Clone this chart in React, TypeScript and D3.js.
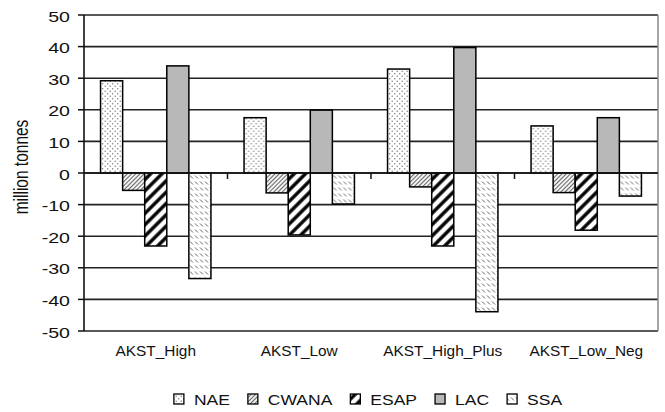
import React from "react";
import * as d3 from "d3";

const categories = ["AKST_High", "AKST_Low", "AKST_High_Plus", "AKST_Low_Neg"];
const seriesNames = ["NAE", "CWANA", "ESAP", "LAC", "SSA"];
const NAE = [29.2, 17.5, 32.9, 14.9];
const CWANA = [-5.5, -6.3, -4.4, -6.2];
const ESAP = [-23.1, -19.6, -23.1, -18.1];
const LAC = [33.9, 19.9, 39.7, 17.5];
const SSA = [-33.4, -9.8, -43.9, -7.3];
const seriesValues = [NAE, CWANA, ESAP, LAC, SSA];
const yTicks = [50, 40, 30, 20, 10, 0, -10, -20, -30, -40, -50];

const W = 665;
const H = 412;
const FONT = "'Liberation Sans', Arial, sans-serif";
const fills = ["url(#pNAE)", "url(#pCWANA)", "url(#pESAP)", "#b8b8b8", "url(#pSSA)"];

function measure(text: string, size: number): number {
  if (typeof document === "undefined") return text.length * size * 0.6;
  const c = document.createElement("canvas");
  const ctx = c.getContext("2d");
  if (!ctx) return text.length * size * 0.6;
  ctx.font = `${size}px 'Liberation Sans', Arial, sans-serif`;
  return ctx.measureText(text).width;
}

export default function App() {
  const left = 84, right = 658, top = 15, bottom = 331;
  const y = d3.scaleLinear().domain([-50, 50]).range([bottom, top]);
  const x0 = d3.scaleBand<string>().domain(categories).range([left, right]).paddingInner(0).paddingOuter(0);
  const x1 = d3.scaleBand<string>().domain(seriesNames).range([0, x0.bandwidth()]).paddingInner(0).paddingOuter(0.75);

  const legendScale = 1.25;
  const legendFont = 14;
  const items = seriesNames.map((n) => ({ n, tw: measure(n, legendFont) * legendScale }));
  const boxW = 10, boxGap = 10, itemGap = 18;
  const totalW = items.reduce((s, it) => s + boxW + boxGap + it.tw, 0) + itemGap * (items.length - 1);
  let cursor = 368 - totalW / 2;
  const legendItems = items.map((it, i) => {
    const bx = cursor;
    cursor += boxW + boxGap + it.tw + itemGap;
    return { ...it, i, bx };
  });

  return (
    <svg width={W} height={H} style={{ position: "absolute", left: 0, top: 0, background: "#fff" }} fontFamily={FONT}>
      <defs>
        <pattern id="pNAE" width="5" height="5" patternUnits="userSpaceOnUse">
          <rect width="5" height="5" fill="#fff" />
          <circle cx="1.2" cy="1.2" r="0.7" fill="#777" />
          <circle cx="3.7" cy="3.7" r="0.7" fill="#777" />
        </pattern>
        <pattern id="pCWANA" width="3" height="3" patternUnits="userSpaceOnUse" patternTransform="rotate(45)">
          <rect width="3" height="3" fill="#f2f2f2" />
          <line x1="0.5" y1="0" x2="0.5" y2="3" stroke="#666" strokeWidth="1" />
        </pattern>
        <pattern id="pESAP" width="8" height="8" patternUnits="userSpaceOnUse" patternTransform="rotate(45)">
          <rect width="8" height="8" fill="#fff" />
          <line x1="2" y1="0" x2="2" y2="8" stroke="#000" strokeWidth="3.4" />
        </pattern>
        <pattern id="pSSA" width="5" height="6" patternUnits="userSpaceOnUse">
          <rect width="5" height="6" fill="#fff" />
          <line x1="1" y1="1.5" x2="4" y2="4.5" stroke="#666" strokeWidth="1" />
        </pattern>
      </defs>

      {/* gridlines */}
      {yTicks.map((t) => (
        <line key={"g" + t} x1={left} x2={right} y1={y(t)} y2={y(t)} stroke="#222" strokeWidth={1.6} />
      ))}
      {/* right border */}
      <line x1={right} x2={right} y1={top} y2={bottom} stroke="#888" strokeWidth={1.5} />

      {/* bars */}
      {categories.map((c, ci) => (
        <g key={c} transform={`translate(${x0(c)},0)`}>
          {seriesNames.map((s, si) => {
            const v = seriesValues[si][ci];
            const y1 = y(Math.max(0, v));
            const y2 = y(Math.min(0, v));
            return (
              <rect key={s} x={x1(s)} y={y1} width={x1.bandwidth()} height={y2 - y1}
                fill={fills[si]} stroke="#000" strokeWidth={1.5} />
            );
          })}
        </g>
      ))}

      {/* zero axis with category ticks */}
      <line x1={left} x2={right} y1={y(0)} y2={y(0)} stroke="#111" strokeWidth={1.6} />
      {categories.slice(1).map((c) => (
        <line key={"ct" + c} x1={x0(c)} x2={x0(c)} y1={y(0)} y2={y(0) + 6} stroke="#111" strokeWidth={1.5} />
      ))}

      {/* y axis */}
      <line x1={left} x2={left} y1={top} y2={bottom} stroke="#111" strokeWidth={1.6} />
      {yTicks.map((t) => (
        <g key={"yt" + t}>
          <line x1={left - 6} x2={left} y1={y(t)} y2={y(t)} stroke="#111" strokeWidth={1.5} />
          <text transform={`translate(70,${y(t) + 6.5}) scale(1.4,1)`} textAnchor="end" fontSize={14} fill="#111">
            {t}
          </text>
        </g>
      ))}
      <text transform={`translate(21,167) scale(1.25,1) rotate(-90)`} textAnchor="middle" dominantBaseline="central" fontSize={15.5} fill="#111">
        million tonnes
      </text>

      {/* category labels */}
      {categories.map((c) => (
        <text key={"cl" + c} transform={`translate(${(x0(c) as number) + x0.bandwidth() / 2},355.5) scale(1.1,1)`}
          textAnchor="middle" fontSize={14} fill="#111">
          {c}
        </text>
      ))}

      {/* legend */}
      {legendItems.map((it) => (
        <g key={"lg" + it.n}>
          <rect x={it.bx} y={394} width={boxW} height={10} fill={fills[it.i]} stroke="#000" strokeWidth={1.3} />
          <text transform={`translate(${it.bx + boxW + boxGap},405) scale(${legendScale},1)`} fontSize={legendFont} fill="#111">
            {it.n}
          </text>
        </g>
      ))}
    </svg>
  );
}
